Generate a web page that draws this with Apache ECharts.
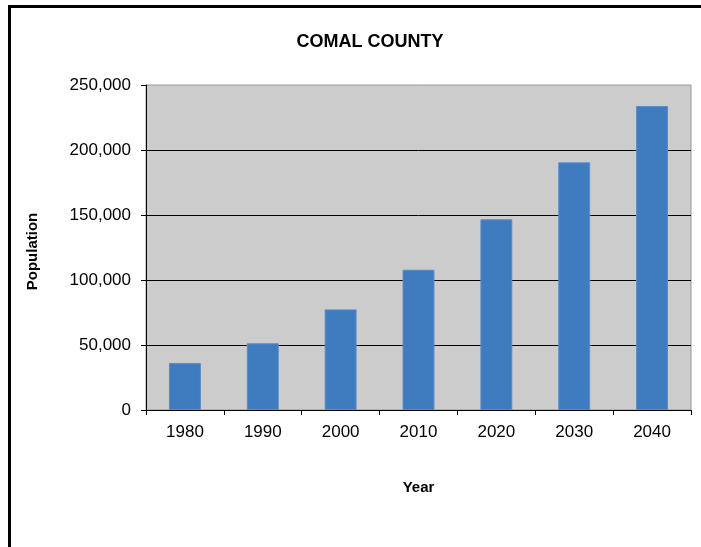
<!DOCTYPE html>
<html>
<head>
<meta charset="utf-8">
<script src="https://cdn.jsdelivr.net/npm/echarts@6/dist/echarts.min.js"></script>
<style>
html,body{margin:0;padding:0;background:#fff;}
#chart{position:absolute;left:0;top:0;width:701px;height:547px;}
#frame{position:absolute;left:8px;top:5px;width:700px;height:560px;border-left:3px solid #000;border-top:3px solid #000;pointer-events:none;}
</style>
</head>
<body>
<div id="chart"></div>
<div id="frame"></div>
<script>
const title = 'COMAL COUNTY';
const years = ['1980','1990','2000','2010','2020','2030','2040'];
const population = [36200, 51300, 77400, 107900, 146700, 190500, 233800];
const yMin = 0, yMax = 250000, yStep = 50000;
const xName = 'Year';
const yName = 'Population';

const chart = echarts.init(document.getElementById('chart'), null, {renderer:'canvas'});
const font = 'Liberation Sans, Arial, sans-serif';
chart.setOption({
  animation:false,
  backgroundColor:'#fff',
  title:{text:title,left:365,top:28,textAlign:'center',
    textStyle:{fontFamily:font,fontSize:18,fontWeight:'bold',color:'#000'}},
  grid:{left:146,top:85,right:10,bottom:137,show:true,backgroundColor:'#cccccc',borderColor:'#999999',borderWidth:1,containLabel:false},
  xAxis:{type:'category',data:years,name:xName,nameLocation:'middle',nameGap:70,
    nameTextStyle:{fontFamily:font,fontSize:15,fontWeight:'bold',color:'#000'},
    axisLine:{lineStyle:{color:'#000',width:1}},
    axisTick:{show:true,length:5,lineStyle:{color:'#000'}},
    axisLabel:{fontFamily:font,fontSize:17,color:'#000',margin:14},
    splitLine:{show:false}},
  yAxis:{type:'value',min:yMin,max:yMax,interval:yStep,name:yName,nameLocation:'middle',nameGap:106,
    nameTextStyle:{fontFamily:font,fontSize:15,fontWeight:'bold',color:'#000',padding:[0,8,0,0]},
    axisLine:{show:true,lineStyle:{color:'#000',width:1}},
    axisTick:{show:true,length:5,lineStyle:{color:'#000'}},
    axisLabel:{fontFamily:font,fontSize:17,color:'#000',margin:15,
      formatter:v=>v.toLocaleString('en-US')},
    splitLine:{show:true,showMaxLine:false,lineStyle:{color:'#000',width:1}}},
  series:[{type:'bar',data:population,barWidth:'41%',
    itemStyle:{color:'#3f7bbf',borderColor:'#5c8cc7',borderWidth:1}}]
});
</script>
</body>
</html>
